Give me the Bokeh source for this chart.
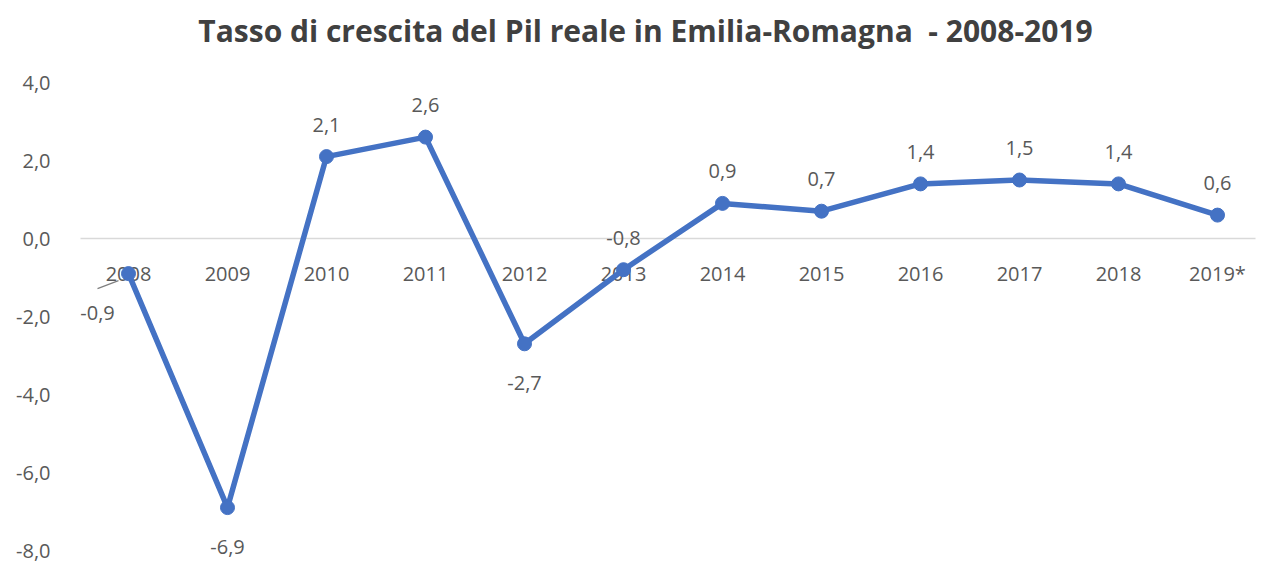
from bokeh.plotting import figure
from bokeh.models import Range1d, FixedTicker, CustomJSTickFormatter, Label
from bokeh.core.properties import value
from bokeh.embed import file_html
from bokeh.resources import INLINE

years = ["2008", "2009", "2010", "2011", "2012", "2013", "2014", "2015", "2016", "2017", "2018", "2019*"]
growth = [-0.9, -6.9, 2.1, 2.6, -2.7, -0.8, 0.9, 0.7, 1.4, 1.5, 1.4, 0.6]
label_pos = ["left", "below", "above", "above", "below", "above", "above", "above", "above", "above", "above", "above"]
y_ticks = [-8, -6, -4, -2, 0, 2, 4]
title_text = "Tasso di crescita del Pil reale in Emilia-Romagna \u00a0- 2008-2019"

W, H = 1261, 562
FRAME_LEFT = 79
PX_X = 99.0   # pixels per category
PX_Y = 39.0   # pixels per unit
X0_PX = 128   # pixel of first category
Y0_PX = 238   # pixel of zero

x_start = -(X0_PX - FRAME_LEFT) / PX_X
x_end = (W - X0_PX) / PX_X
y_end = Y0_PX / PX_Y
y_start = -(H - Y0_PX) / PX_Y

FONT = "Open Sans"
GRAY = "#595959"
BLUE = "#4472C4"

p = figure(width=W, height=H, output_backend="svg", toolbar_location=None,
           x_range=Range1d(x_start, x_end), y_range=Range1d(y_start, y_end),
           min_border_left=FRAME_LEFT, min_border_right=0, min_border_top=0, min_border_bottom=0)
p.outline_line_color = None
p.xaxis.visible = False
p.xgrid.visible = False
p.ygrid.visible = False
p.background_fill_color = "white"
p.border_fill_color = "white"

ya = p.yaxis[0]
ya.ticker = FixedTicker(ticks=y_ticks)
ya.formatter = CustomJSTickFormatter(code="return tick.toFixed(1).replace('.', ',').replace('-0,0','0,0');")
ya.axis_line_color = None
ya.major_tick_line_color = None
ya.minor_tick_line_color = None
ya.major_label_standoff = 23
ya.major_label_text_font = FONT
ya.major_label_text_font_size = "20px"
ya.major_label_text_color = GRAY

xs = list(range(len(years)))

# zero line (category axis)
p.segment(x0=[x_start + 0.01], y0=[0], x1=[(1255 - X0_PX) / PX_X], y1=[0], line_color="#D9D9D9", line_width=1.5)

# category labels below zero line
p.text(x=xs, y=[-35 / PX_Y] * len(xs), text=years, text_align="center", text_baseline="middle",
       text_font=value(FONT), text_font_size="20px", text_color=GRAY)

# line + markers
p.line(xs, growth, line_color=BLUE, line_width=5.5, line_join="round")
p.scatter(xs, growth, size=14, fill_color=BLUE, line_color=BLUE)

# data labels
lx, ly, lt = [], [], []
for i, (v, pos) in enumerate(zip(growth, label_pos)):
    txt = ("%.1f" % v).replace(".", ",")
    if pos == "above":
        lx.append(i); ly.append(v + 32 / PX_Y)
    elif pos == "below":
        lx.append(i); ly.append(v - 39 / PX_Y)
    else:
        lx.append(i - 31 / PX_X); ly.append(v - 39 / PX_Y)
        p.segment(x0=[i - 10 / PX_X], y0=[v - 7 / PX_Y], x1=[i - 31 / PX_X], y1=[v - 15 / PX_Y],
                  line_color="#7F7F7F", line_width=1.2)
    lt.append(txt)
p.text(x=lx, y=ly, text=lt, text_align="center", text_baseline="middle",
       text_font=value(FONT), text_font_size="20px", text_color=GRAY)

# title
p.add_layout(Label(x=645 - FRAME_LEFT, y=H - 30, x_units="screen", y_units="screen", text=title_text,
                   text_align="center", text_baseline="middle", text_font=FONT, text_font_style="bold",
                   text_font_size="30px", text_color="#404040"))

open("out.html", "w").write(file_html(p, INLINE))
